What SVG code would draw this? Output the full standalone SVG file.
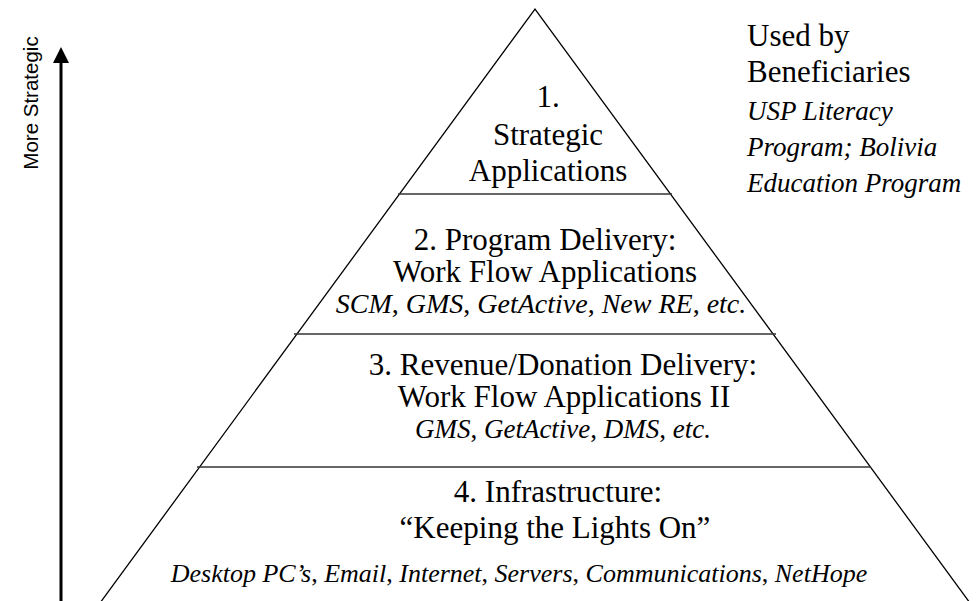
<svg xmlns="http://www.w3.org/2000/svg" width="978" height="601" viewBox="0 0 978 601">
  <style>
    .t { font-family: "Liberation Serif", "Times New Roman", serif; fill: #000; }
    .big { font-size: 31px; }
    .it { font-size: 26px; font-style: italic; }
    .it27 { font-size: 27px; font-style: italic; }
    .it28 { font-size: 28px; font-style: italic; }
    .up { font-style: normal; }
    .c { text-anchor: middle; }
    .edge { stroke: #000; stroke-width: 1.3; fill: none; }
    .sep { stroke: #333; stroke-width: 1.3; }
    .axis { font-family: "Liberation Sans", Arial, sans-serif; font-size: 20.5px; fill: #000; }
  </style>

  <!-- pyramid outline -->
  <g id="pyramid">
    <polyline class="edge" points="100,603 535,9 970,603"/>
  </g>

  <!-- tier dividers -->
  <g id="connectors">
    <line class="sep" x1="398" y1="194" x2="672" y2="194"/>
    <line class="sep" x1="294" y1="334" x2="776" y2="334"/>
    <line class="sep" x1="197" y1="467" x2="871" y2="467"/>
  </g>

  <!-- tier 1 -->
  <g id="tier1">
    <text class="t big c" x="548" y="107">1.</text>
    <text class="t big c" x="548" y="145">Strategic</text>
    <text class="t big c" x="548" y="181">Applications</text>
  </g>

  <!-- tier 2 -->
  <g id="tier2">
    <text class="t big c" x="545" y="250">2. Program Delivery:</text>
    <text class="t big c" x="545" y="282">Work Flow Applications</text>
    <text class="t it28 c" x="541" y="313">SCM<tspan class="up">,</tspan> GMS<tspan class="up">,</tspan> GetActive<tspan class="up">,</tspan> New RE<tspan class="up">,</tspan> etc.</text>
  </g>

  <!-- tier 3 -->
  <g id="tier3">
    <text class="t big c" x="563" y="375">3. Revenue/Donation Delivery:</text>
    <text class="t big c" x="564" y="407">Work Flow Applications II</text>
    <text class="t it27 c" x="563" y="438">GMS<tspan class="up">,</tspan> GetActive<tspan class="up">,</tspan> DMS<tspan class="up">,</tspan> etc.</text>
  </g>

  <!-- tier 4 -->
  <g id="tier4">
    <text class="t big c" x="558" y="502">4. Infrastructure:</text>
    <text class="t big c" x="555" y="538">“Keeping the Lights On”</text>
    <text class="t it c" x="519" y="582">Desktop PC’s<tspan class="up">,</tspan> Email<tspan class="up">,</tspan> Internet<tspan class="up">,</tspan> Servers<tspan class="up">,</tspan> Communications<tspan class="up">,</tspan> NetHope</text>
  </g>

  <!-- side note -->
  <g id="users">
    <text class="t big" x="747" y="46">Used by</text>
    <text class="t big" x="747" y="82">Beneficiaries</text>
    <text class="t it27" x="747" y="120">USP Literacy</text>
    <text class="t it27" x="747" y="156">Program; Bolivia</text>
    <text class="t it27" x="747" y="192">Education Program</text>
  </g>

  <!-- strategic axis -->
  <g id="axis">
    <line x1="61" y1="601" x2="61" y2="60" stroke="#000" stroke-width="3"/>
    <polygon points="61,47 53,63 69,63" fill="#000"/>
    <text class="axis c" transform="translate(38,103) rotate(-90)">More Strategic</text>
  </g>
</svg>
